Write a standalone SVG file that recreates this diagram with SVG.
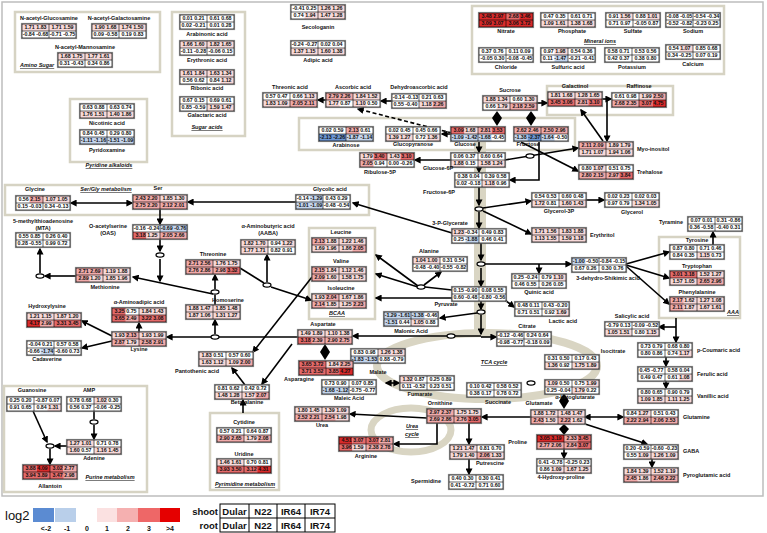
<svg xmlns="http://www.w3.org/2000/svg" xmlns:xlink="http://www.w3.org/1999/xlink" width="767" height="533" viewBox="0 0 767 533">
<style>
text{font-family:"Liberation Sans",Arial,sans-serif;font-weight:bold;fill:#111}
.v{font-size:5.3px;text-anchor:middle}
.l{font-size:5.5px;text-anchor:middle}
.s{text-anchor:start}.e{text-anchor:end}
.t{font-size:5.5px;font-style:italic;text-decoration:underline;text-anchor:middle}
.c{width:13.5px;height:7px}.w2{width:27px}.w4{width:54px}.h2{height:14px}
.p1{fill:#f7d9d9}.p2{fill:#f0aaaa}.p3{fill:#e46a6a}.p4{fill:#d82a2a}.b1{fill:#c3d4ec}.b2{fill:#6c96d3}
.pan{fill:none;stroke:#d6d3c3;stroke-width:2.5}
.ln{fill:none;stroke:#000;stroke-width:1.6}
.ar{marker-end:url(#a)}
.da{marker-start:url(#a);marker-end:url(#a)}
.dm{fill:#000}
</style>
<defs>
<marker id="a" viewBox="0 0 10 10" refX="8" refY="5" markerWidth="7" markerHeight="7" markerUnits="userSpaceOnUse" orient="auto-start-reverse"><path d="M0,0L10,5L0,10z"/></marker>
<rect id="bg" width="54" height="14" fill="#fff"/>
<g id="bx"><rect x="-0.7" y="-0.7" width="55.4" height="15.4" fill="none" stroke="#8a8a8a" stroke-width="0.8"/><rect width="54" height="14" fill="none" stroke="#000" stroke-width="0.7"/><path d="M27 0V14M0 7H54" stroke="#000" stroke-width="0.6"/></g>
<ellipse id="ov" rx="4" ry="2.2" fill="#fff" stroke="#000" stroke-width="1.2"/>
</defs>
<rect width="767" height="533" fill="#fff"/>
<rect x="2" y="2" width="761" height="494" fill="none" stroke="#bdbdbd" stroke-width="1.5"/>

<g id="panels">
<rect class="pan" x="15" y="12" width="145" height="60"/>
<rect class="pan" x="172" y="12" width="73" height="124"/>
<rect class="pan" x="70" y="99" width="77" height="63"/>
<rect class="pan" x="472" y="6" width="252" height="68"/>
<rect class="pan" x="547" y="86" width="126" height="29"/>
<rect class="pan" x="299" y="118" width="276" height="32"/>
<rect class="pan" x="5" y="185" width="364" height="30"/>
<rect class="pan" x="309" y="228" width="66" height="91"/>
<rect class="pan" x="659" y="237" width="81" height="81"/>
<rect class="pan" x="210" y="413" width="69" height="77"/>
<rect class="pan" x="4" y="386" width="143" height="106"/>
<path d="M480 142V334" fill="none" stroke="#d9d5c3" stroke-width="12"/>
<ellipse cx="487" cy="366" rx="110" ry="33" fill="none" stroke="#d9d5c3" stroke-width="8"/>
<ellipse cx="411" cy="430" rx="40" ry="22" fill="none" stroke="#d9d5c3" stroke-width="7"/>
<text class="t" x="20" y="67" style="text-anchor:start">Amino  Sugar</text>
<text class="t" x="207" y="129">Sugar  acids</text>
<text class="t" x="109" y="167">Pyridine  alkaloids</text>
<text class="t" x="600" y="43">Mineral  ions</text>
<text class="t" x="337" y="315">BCAA</text>
<text class="t" x="733" y="314">AAA</text>
<text class="t" x="106" y="191">Ser/Gly metabolism</text>
<text class="t" x="494" y="364">TCA cycle</text>
<text class="t" x="412" y="428">Urea</text>
<text class="t" x="412" y="436">cycle</text>
<text class="t" x="245" y="486">Pyrimidine  metabolism</text>
<text class="t" x="110" y="479">Purine  metabolism</text>
</g>

<g id="connectors">
<path class="ln ar" d="M326 100H318"/>
<path class="ln ar" d="M392 101H381"/>
<path class="ln ar" d="M452 133L358 109" stroke-dasharray="4 2.5"/>
<path class="ln ar" d="M451 134H442"/>
<polygon class="dm" points="497,111 502,118 497,126 492,118"/>
<polygon class="dm" points="531,111 536,118 531,126 526,118"/>
<path class="ln ar" d="M537 103H547"/>
<path class="ln ar" d="M602 99H611"/>
<path class="ln ar" d="M607 100V141"/>
<path class="ln ar" d="M603 141L581 110"/>
<path class="ln ar" d="M505 160L578 148"/>
<path class="ln ar" d="M521 142L578 171"/>
<path class="ln ar" d="M539 142V180H510"/>
<path class="ln ar" d="M479 142V152"/>
<path class="ln ar" d="M451 160H415"/>
<path class="ln ar" d="M479 167V172"/>
<path class="ln ar" d="M479 187V205"/>
<path class="ln ar" d="M479 212V228"/>
<path class="ln ar" d="M483 208L531 201"/>
<path class="ln ar" d="M483 211L531 234"/>
<path class="ln ar" d="M586 200H604"/>
<path class="ln ar" d="M452 233L353 203"/>
<path class="ln ar" d="M296 202H188"/>
<path class="ln da" d="M71 203H132"/>
<path class="ln ar" d="M160 209V224"/>
<path class="ln ar" d="M160 239V251"/>
<path class="ln ar" d="M160 259V281"/>
<path class="ln ar" d="M213 294L133 277"/>
<path class="ln ar" d="M76 276H45"/>
<path class="ln ar" d="M40 273V249"/>
<path class="ln ar" d="M481 243V260"/>
<path class="ln ar" d="M485 264H571"/>
<path class="ln ar" d="M539 264V273"/>
<path class="ln ar" d="M626 264L669 252"/>
<path class="ln ar" d="M626 265L669 278"/>
<path class="ln ar" d="M626 266L669 304"/>
<path class="ln ar" d="M713 245V232"/>
<path class="ln ar" d="M676 318V342"/>
<path class="ln ar" d="M676 327H659"/>
<path class="ln ar" d="M666 356V366"/>
<path class="ln ar" d="M666 381V388"/>
<path class="ln ar" d="M481 268V286"/>
<path class="ln" d="M452 290L425 287"/>
<path class="ln ar" d="M424 285L441 272"/>
<path class="ln ar" d="M418 286L376 255"/>
<path class="ln ar" d="M418 287L376 274"/>
<path class="ln ar" d="M452 298H376"/>
<path class="ln ar" d="M271 287L311 300"/>
<path class="ln" d="M240 268L264 283"/>
<path class="ln ar" d="M267 282V255"/>
<path class="ln ar" d="M505 300L514 307"/>
<path class="ln ar" d="M481 300V309"/>
<path class="ln ar" d="M477 313L440 318"/>
<path class="ln ar" d="M481 315V334"/>
<path class="ln ar" d="M481 337H496"/>
<path class="ln ar" d="M481 336H353"/>
<path class="ln ar" d="M298 337H167"/>
<path class="ln ar" d="M215 334V320"/>
<path class="ln" d="M215 305V295"/>
<path class="ln ar" d="M215 289V275"/>
<path class="ln ar" d="M139 332V323"/>
<path class="ln ar" d="M112 336L82 321"/>
<path class="ln ar" d="M112 341L82 348"/>
<path class="ln ar" d="M312 277L253 352"/>
<polygon class="dm" points="325,344 330,352 325,360 320,352"/>
<path class="ln ar" d="M292 344L262 384"/>
<path class="ln ar" d="M245 385L232 368"/>
<path class="ln ar" d="M243 413V400"/>
<path class="ln ar" d="M33 411L47 442"/>
<path class="ln ar" d="M67 446H55"/>
<path class="ln" d="M94 411V419"/>
<path class="ln ar" d="M94 425V439"/>
<path class="ln ar" d="M50 449V464"/>
<path class="ln ar" d="M531 417H482"/>
<path class="ln ar" d="M427 418L350 414"/>
<path class="ln ar" d="M437 423V444H394"/>
<path class="ln ar" d="M469 423V444"/>
<path class="ln ar" d="M469 459V474"/>
<polygon class="dm" points="564,393 569,401 564,409 559,401"/>
<polygon class="dm" points="564,424 569,429 564,435 559,429"/>
<path class="ln ar" d="M564 449V458"/>
<path class="ln da" d="M585 417H623"/>
<path class="ln ar" d="M585 424L647 444"/>
<path class="ln ar" d="M652 458V467"/>
<path class="ln da" d="M386 383H399"/>
<use href="#ov" x="530" y="156"/>
<use href="#ov" x="479" y="209"/>
<use href="#ov" x="160" y="255"/>
<use href="#ov" x="40" y="276"/>
<use href="#ov" x="481" y="264"/>
<use href="#ov" x="421" y="287"/>
<use href="#ov" x="267" y="285"/>
<use href="#ov" x="481" y="312"/>
<use href="#ov" x="451" y="336"/>
<use href="#ov" x="215" y="337"/>
<use href="#ov" x="215" y="292"/>
<use href="#ov" x="50" y="446"/>
<use href="#ov" x="94" y="422"/>
<use href="#ov" x="531" y="383"/>
</g>

<g id="nag" transform="translate(22,24)"><use href="#bg"/><rect class="c w4 p1"/><use href="#bx"/><text class="v" x="13.5" y="5.3">1.71 1.83</text><text class="v" x="40.5" y="5.3">1.71 1.59</text><text class="v" x="13.5" y="12.3">-0.84 -0.68</text><text class="v" x="40.5" y="12.3">-0.71 -0.75</text><text class="l" x="27" y="-4">N-acetyl-Glucosamine</text></g>
<g id="ngal" transform="translate(92,24)"><use href="#bg"/><rect class="c w4 p1"/><use href="#bx"/><text class="v" x="13.5" y="5.3">1.90 1.68</text><text class="v" x="40.5" y="5.3">1.74 1.50</text><text class="v" x="13.5" y="12.3">0.09 -0.58</text><text class="v" x="40.5" y="12.3">0.19 0.83</text><text class="l" x="27" y="-4">N-acetyl-Galactosamine</text></g>
<g id="nman" transform="translate(58,53)"><use href="#bg"/><rect class="c w4 p1"/><use href="#bx"/><text class="v" x="13.5" y="5.3">1.68 1.75</text><text class="v" x="40.5" y="5.3">1.77 1.61</text><text class="v" x="13.5" y="12.3">0.31 -0.43</text><text class="v" x="40.5" y="12.3">0.34 0.86</text><text class="l" x="27" y="-4">N-acetyl-Mannosamine</text></g>
<g id="arab" transform="translate(180,15)"><use href="#bg"/><use href="#bx"/><text class="v" x="13.5" y="5.3">0.01 0.21</text><text class="v" x="40.5" y="5.3">0.61 0.68</text><text class="v" x="13.5" y="12.3">0.02 -0.21</text><text class="v" x="40.5" y="12.3">0.01 0.28</text><text class="l" x="27" y="21">Arabinonic  acid</text></g>
<g id="eryth" transform="translate(180,41)"><use href="#bg"/><rect class="c w4 p1"/><use href="#bx"/><text class="v" x="13.5" y="5.3">1.66 1.60</text><text class="v" x="40.5" y="5.3">1.82 1.65</text><text class="v" x="13.5" y="12.3">-0.11 -0.28</text><text class="v" x="40.5" y="12.3">-0.06 0.15</text><text class="l" x="27" y="21">Erythronic  acid</text></g>
<g id="ribon" transform="translate(180,70)"><use href="#bg"/><rect class="c w4 p1"/><rect class="c p1" x="40.5" y="7"/><use href="#bx"/><text class="v" x="13.5" y="5.3">1.61 1.84</text><text class="v" x="40.5" y="5.3">1.63 1.34</text><text class="v" x="13.5" y="12.3">0.56 0.62</text><text class="v" x="40.5" y="12.3">0.84 1.12</text><text class="l" x="27" y="20">Ribonic  acid</text></g>
<g id="galac" transform="translate(180,97)"><use href="#bg"/><rect class="c w2 p1" x="27" y="7"/><use href="#bx"/><text class="v" x="13.5" y="5.3">0.67 0.15</text><text class="v" x="40.5" y="5.3">0.69 0.61</text><text class="v" x="13.5" y="12.3">0.85 -0.59</text><text class="v" x="40.5" y="12.3">1.59 1.47</text><text class="l" x="27" y="20">Galactaric  acid</text></g>
<g id="nicot" transform="translate(80,104)"><use href="#bg"/><rect class="c w4 p1" y="7"/><use href="#bx"/><text class="v" x="13.5" y="5.3">0.63 0.88</text><text class="v" x="40.5" y="5.3">0.63 0.74</text><text class="v" x="13.5" y="12.3">1.76 1.51</text><text class="v" x="40.5" y="12.3">1.40 1.86</text><text class="l" x="27" y="21">Nicotinic  acid</text></g>
<g id="pyridox" transform="translate(80,130)"><use href="#bg"/><rect class="c w4 b1" y="7"/><use href="#bx"/><text class="v" x="13.5" y="5.3">0.84 0.45</text><text class="v" x="40.5" y="5.3">0.29 0.80</text><text class="v" x="13.5" y="12.3">-1.11 -1.16</text><text class="v" x="40.5" y="12.3">-1.51 -1.09</text><text class="l" x="27" y="22">Pyridoxamine</text></g>
<g id="secol" transform="translate(291,5)"><use href="#bg"/><rect class="c w2 p1" x="27"/><rect class="c p1" x="13.5" y="7"/><rect class="c w2 p1" x="27" y="7"/><use href="#bx"/><text class="v" x="13.5" y="5.3">-0.41 0.25</text><text class="v" x="40.5" y="5.3">1.26 1.26</text><text class="v" x="13.5" y="12.3">0.74 1.94</text><text class="v" x="40.5" y="12.3">1.47 1.28</text><text class="l" x="27" y="24">Secologanin</text></g>
<g id="adipic" transform="translate(291,41)"><use href="#bg"/><rect class="c w4 p1" y="7"/><use href="#bx"/><text class="v" x="13.5" y="5.3">-0.24 -0.27</text><text class="v" x="40.5" y="5.3">0.02 0.04</text><text class="v" x="13.5" y="12.3">1.37 1.15</text><text class="v" x="40.5" y="12.3">1.60 1.38</text><text class="l" x="27" y="21">Adipic  acid</text></g>
<g id="nitrate" transform="translate(479,13)"><use href="#bg"/><rect class="c w4 h2 p4"/><rect class="c p3" x="27"/><use href="#bx"/><text class="v" x="13.5" y="5.3">3.48 2.97</text><text class="v" x="40.5" y="5.3">2.68 3.46</text><text class="v" x="13.5" y="12.3">3.09 3.07</text><text class="v" x="40.5" y="12.3">3.06 3.72</text><text class="l" x="27" y="20">Nitrate</text></g>
<g id="phosph" transform="translate(541,13)"><use href="#bg"/><rect class="c w4 p1" y="7"/><use href="#bx"/><text class="v" x="13.5" y="5.3">0.47 0.35</text><text class="v" x="40.5" y="5.3">0.61 0.71</text><text class="v" x="13.5" y="12.3">1.09 1.61</text><text class="v" x="40.5" y="12.3">1.38 1.68</text><text class="l" x="31" y="20">Phosphate</text></g>
<g id="sulfate" transform="translate(606,13)"><use href="#bg"/><rect class="c p1" x="13.5"/><rect class="c p1" x="40.5"/><use href="#bx"/><text class="v" x="13.5" y="5.3">0.91 1.56</text><text class="v" x="40.5" y="5.3">0.88 1.01</text><text class="v" x="13.5" y="12.3">0.71 0.97</text><text class="v" x="40.5" y="12.3">-0.05 0.87</text><text class="l" x="27" y="20">Sulfate</text></g>
<g id="sodium" transform="translate(666,13)"><use href="#bg"/><use href="#bx"/><text class="v" x="13.5" y="5.3">-0.08 -0.05</text><text class="v" x="40.5" y="5.3">-0.54 -0.34</text><text class="v" x="13.5" y="12.3">-0.52 -0.82</text><text class="v" x="40.5" y="12.3">-0.23 0.25</text><text class="l" x="27" y="20">Sodium</text></g>
<g id="chloride" transform="translate(479,48)"><use href="#bg"/><use href="#bx"/><text class="v" x="13.5" y="5.3">0.37 0.76</text><text class="v" x="40.5" y="5.3">0.11 0.09</text><text class="v" x="13.5" y="12.3">-0.05 0.30</text><text class="v" x="40.5" y="12.3">-0.08 -0.45</text><text class="l" x="27" y="21">Chloride</text></g>
<g id="sulfuric" transform="translate(541,48)"><use href="#bg"/><rect class="c p1" x="13.5"/><rect class="c b1" x="13.5" y="7"/><use href="#bx"/><text class="v" x="13.5" y="5.3">0.97 1.98</text><text class="v" x="40.5" y="5.3">0.54 0.36</text><text class="v" x="13.5" y="12.3">0.11 -1.47</text><text class="v" x="40.5" y="12.3">-0.21 -0.41</text><text class="l" x="27" y="21">Sulfuric  acid</text></g>
<g id="potass" transform="translate(605,48)"><use href="#bg"/><use href="#bx"/><text class="v" x="13.5" y="5.3">0.58 0.71</text><text class="v" x="40.5" y="5.3">0.53 0.56</text><text class="v" x="13.5" y="12.3">0.42 0.37</text><text class="v" x="40.5" y="12.3">0.38 0.80</text><text class="l" x="27" y="21">Potassium</text></g>
<g id="calcium" transform="translate(666,45)"><use href="#bg"/><rect class="c p1" x="13.5"/><use href="#bx"/><text class="v" x="13.5" y="5.3">0.54 1.07</text><text class="v" x="40.5" y="5.3">0.85 0.68</text><text class="v" x="13.5" y="12.3">0.34 -0.25</text><text class="v" x="40.5" y="12.3">0.07 0.19</text><text class="l" x="27" y="21">Calcium</text></g>
<g id="threonic" transform="translate(263,93)"><use href="#bg"/><rect class="c p1" x="40.5"/><rect class="c w2 p1" y="7"/><rect class="c w2 p2" x="27" y="7"/><use href="#bx"/><text class="v" x="13.5" y="5.3">0.57 0.47</text><text class="v" x="40.5" y="5.3">0.66 1.13</text><text class="v" x="13.5" y="12.3">1.83 1.09</text><text class="v" x="40.5" y="12.3">2.05 2.11</text><text class="l" x="27" y="-4">Threonic  acid</text></g>
<g id="ascorbic" transform="translate(326,93)"><use href="#bg"/><rect class="c w2 p2"/><rect class="c w2 p1" x="27"/><rect class="c p1" y="7"/><rect class="c p1" x="27" y="7"/><use href="#bx"/><text class="v" x="13.5" y="5.3">2.79 2.26</text><text class="v" x="40.5" y="5.3">1.84 1.52</text><text class="v" x="13.5" y="12.3">1.77 0.87</text><text class="v" x="40.5" y="12.3">1.10 0.50</text><text class="l" x="27" y="-4">Ascorbic  acid</text></g>
<g id="dhasc" transform="translate(392,94)"><use href="#bg"/><rect class="c p1" x="27" y="7"/><rect class="c p2" x="40.5" y="7"/><use href="#bx"/><text class="v" x="13.5" y="5.3">-0.14 -0.13</text><text class="v" x="40.5" y="5.3">0.21 0.63</text><text class="v" x="13.5" y="12.3">0.55 -0.40</text><text class="v" x="40.5" y="12.3">1.18 2.26</text><text class="l" x="27" y="-5">Dehydroascorbic  acid</text></g>
<g id="arabinose" transform="translate(319,127)"><use href="#bg"/><rect class="c p2" x="27"/><rect class="c w2 b2" y="7"/><rect class="c w2 b1" x="27" y="7"/><use href="#bx"/><text class="v" x="13.5" y="5.3">0.02 0.59</text><text class="v" x="40.5" y="5.3">2.13 0.61</text><text class="v" x="13.5" y="12.3">-2.13 -2.26</text><text class="v" x="40.5" y="12.3">-1.87 -1.14</text><text class="l" x="27" y="20">Arabinose</text></g>
<g id="glucopyr" transform="translate(386,127)"><use href="#bg"/><rect class="c w2 p1" y="7"/><rect class="c p1" x="40.5" y="7"/><use href="#bx"/><text class="v" x="13.5" y="5.3">0.02 0.45</text><text class="v" x="40.5" y="5.3">0.45 0.66</text><text class="v" x="13.5" y="12.3">1.39 1.27</text><text class="v" x="40.5" y="12.3">0.72 1.36</text><text class="l" x="27" y="19">Glucopyranose</text></g>
<g id="glucose" transform="translate(451,127)"><use href="#bg"/><rect class="c p3"/><rect class="c p1" x="13.5"/><rect class="c p2" x="27"/><rect class="c p3" x="40.5"/><rect class="c b1" y="7"/><rect class="c b1" x="13.5" y="7"/><rect class="c b1" x="27" y="7"/><use href="#bx"/><text class="v" x="13.5" y="5.3">3.09 1.68</text><text class="v" x="40.5" y="5.3">2.81 3.53</text><text class="v" x="13.5" y="12.3">-1.09 -1.42</text><text class="v" x="40.5" y="12.3">-1.68 -0.45</text><text class="l" x="14" y="19">Glucose</text></g>
<g id="fructose" transform="translate(514,127)"><use href="#bg"/><rect class="c w4 p2"/><rect class="c b1" y="7"/><rect class="c b2" x="13.5" y="7"/><rect class="c b1" x="27" y="7"/><use href="#bx"/><text class="v" x="13.5" y="5.3">2.62 2.46</text><text class="v" x="40.5" y="5.3">2.50 2.96</text><text class="v" x="13.5" y="12.3">-1.38 -2.37</text><text class="v" x="40.5" y="12.3">-1.64 -0.50</text><text class="l" x="14" y="19">Fructose</text></g>
<g id="sucrose" transform="translate(483,96)"><use href="#bg"/><rect class="c w2 p1"/><rect class="c p1" x="40.5"/><rect class="c p1" x="13.5" y="7"/><rect class="c w2 p2" x="27" y="7"/><use href="#bx"/><text class="v" x="13.5" y="5.3">1.88 1.34</text><text class="v" x="40.5" y="5.3">0.60 1.30</text><text class="v" x="13.5" y="12.3">0.66 1.79</text><text class="v" x="40.5" y="12.3">2.18 2.59</text><text class="l" x="27" y="-4">Sucrose</text></g>
<g id="galactinol" transform="translate(548,92)"><use href="#bg"/><rect class="c w4 p1"/><rect class="c w4 p3" y="7"/><rect class="c p2" x="27" y="7"/><use href="#bx"/><text class="v" x="13.5" y="5.3">1.81 1.68</text><text class="v" x="40.5" y="5.3">1.28 1.65</text><text class="v" x="13.5" y="12.3">3.45 3.06</text><text class="v" x="40.5" y="12.3">2.81 3.10</text><text class="l" x="27" y="-4">Galactinol</text></g>
<g id="raffinose" transform="translate(612,93)"><use href="#bg"/><rect class="c p1" x="27"/><rect class="c p2" x="40.5"/><rect class="c w2 p2" y="7"/><rect class="c p3" x="27" y="7"/><rect class="c p4" x="40.5" y="7"/><use href="#bx"/><text class="v" x="13.5" y="5.3">0.61 0.98</text><text class="v" x="40.5" y="5.3">1.99 2.50</text><text class="v" x="13.5" y="12.3">2.68 2.35</text><text class="v" x="40.5" y="12.3">3.07 4.75</text><text class="l" x="27" y="-5">Raffinose</text></g>
<g id="myo" transform="translate(579,142)"><use href="#bg"/><rect class="c w2 p2"/><rect class="c w2 p1" x="27"/><rect class="c w4 p1" y="7"/><use href="#bx"/><text class="v" x="13.5" y="5.3">2.11 2.09</text><text class="v" x="40.5" y="5.3">1.89 1.79</text><text class="v" x="13.5" y="12.3">1.71 1.07</text><text class="v" x="40.5" y="12.3">1.94 1.06</text><text class="l s" x="58" y="9">Myo-inositol</text></g>
<g id="trehalose" transform="translate(579,165)"><use href="#bg"/><rect class="c p1" x="13.5"/><rect class="c w4 p2" y="7"/><rect class="c p3" x="40.5" y="7"/><use href="#bx"/><text class="v" x="13.5" y="5.3">0.80 1.07</text><text class="v" x="40.5" y="5.3">0.51 0.75</text><text class="v" x="13.5" y="12.3">2.80 2.15</text><text class="v" x="40.5" y="12.3">2.97 3.84</text><text class="l s" x="58" y="9">Trehalose</text></g>
<g id="glc6p" transform="translate(451,153)"><use href="#bg"/><rect class="c p1" y="7"/><rect class="c w2 p1" x="27" y="7"/><use href="#bx"/><text class="v" x="13.5" y="5.3">0.06 0.37</text><text class="v" x="40.5" y="5.3">0.60 0.64</text><text class="v" x="13.5" y="12.3">1.88 0.15</text><text class="v" x="40.5" y="12.3">1.58 1.24</text><text class="l" x="-13" y="17">Glucose-6P</text></g>
<g id="ribulose" transform="translate(360,153)"><use href="#bg"/><rect class="c p1"/><rect class="c p3" x="13.5"/><rect class="c p1" x="27"/><rect class="c p3" x="40.5"/><rect class="c p2" y="7"/><use href="#bx"/><text class="v" x="13.5" y="5.3">1.79 3.40</text><text class="v" x="40.5" y="5.3">1.43 3.10</text><text class="v" x="13.5" y="12.3">2.05 0.94</text><text class="v" x="40.5" y="12.3">0.00 -0.26</text><text class="l" x="20" y="21">Ribulose-5P</text></g>
<g id="fru6p" transform="translate(455,173)"><use href="#bg"/><rect class="c p1" x="27" y="7"/><use href="#bx"/><text class="v" x="13.5" y="5.3">0.38 0.04</text><text class="v" x="40.5" y="5.3">0.39 0.58</text><text class="v" x="13.5" y="12.3">0.02 -0.18</text><text class="v" x="40.5" y="12.3">1.18 0.96</text><text class="l" x="-16" y="21">Fructose-6P</text></g>
<g id="pga" transform="translate(452,229)"><use href="#bg"/><rect class="c p1"/><rect class="c b1" x="13.5" y="7"/><use href="#bx"/><text class="v" x="13.5" y="5.3">1.23 -0.34</text><text class="v" x="40.5" y="5.3">0.49 0.83</text><text class="v" x="13.5" y="12.3">0.25 -1.88</text><text class="v" x="40.5" y="12.3">0.46 0.41</text><text class="l" x="-2" y="-4">3-P-Glycerate</text></g>
<g id="glycerol3p" transform="translate(532,193)"><use href="#bg"/><rect class="c p1" y="7"/><rect class="c w2 p1" x="27" y="7"/><use href="#bx"/><text class="v" x="13.5" y="5.3">0.54 0.53</text><text class="v" x="40.5" y="5.3">0.60 0.48</text><text class="v" x="13.5" y="12.3">1.72 0.81</text><text class="v" x="40.5" y="12.3">1.60 1.43</text><text class="l" x="27" y="20">Glycerol-3P</text></g>
<g id="glycerol" transform="translate(605,193)"><use href="#bg"/><rect class="c w2 p1" x="27" y="7"/><use href="#bx"/><text class="v" x="13.5" y="5.3">0.02 0.23</text><text class="v" x="40.5" y="5.3">0.02 0.03</text><text class="v" x="13.5" y="12.3">0.97 0.79</text><text class="v" x="40.5" y="12.3">1.34 1.05</text><text class="l" x="27" y="21">Glycerol</text></g>
<g id="erythritol" transform="translate(532,228)"><use href="#bg"/><rect class="c w4 h2 p1"/><use href="#bx"/><text class="v" x="13.5" y="5.3">1.71 1.56</text><text class="v" x="40.5" y="5.3">1.83 1.88</text><text class="v" x="13.5" y="12.3">1.13 1.55</text><text class="v" x="40.5" y="12.3">1.59 1.18</text><text class="l s" x="58" y="9">Erythritol</text></g>
<g id="tyramine" transform="translate(688,217)"><use href="#bg"/><use href="#bx"/><text class="v" x="13.5" y="5.3">0.07 0.01</text><text class="v" x="40.5" y="5.3">0.31 -0.86</text><text class="v" x="13.5" y="12.3">0.36 -0.58</text><text class="v" x="40.5" y="12.3">-0.40 0.31</text><text class="l e" x="-5" y="7">Tyramine</text></g>
<g id="tyrosine" transform="translate(670,245)"><use href="#bg"/><rect class="c p1" x="27" y="7"/><use href="#bx"/><text class="v" x="13.5" y="5.3">0.87 0.80</text><text class="v" x="40.5" y="5.3">0.71 0.46</text><text class="v" x="13.5" y="12.3">0.84 0.35</text><text class="v" x="40.5" y="12.3">1.15 0.73</text><text class="l" x="27" y="-3">Tyrosine</text></g>
<g id="tryptophan" transform="translate(670,271)"><use href="#bg"/><rect class="c w2 p3"/><rect class="c w2 p1" x="27"/><rect class="c w2 p1" y="7"/><rect class="c w2 p2" x="27" y="7"/><use href="#bx"/><text class="v" x="13.5" y="5.3">3.01 3.18</text><text class="v" x="40.5" y="5.3">1.52 1.27</text><text class="v" x="13.5" y="12.3">1.57 1.05</text><text class="v" x="40.5" y="12.3">2.65 2.96</text><text class="l" x="27" y="-3">Tryptophan</text></g>
<g id="phenylal" transform="translate(670,297)"><use href="#bg"/><rect class="c w4 h2 p1"/><rect class="c p2"/><rect class="c p2" y="7"/><use href="#bx"/><text class="v" x="13.5" y="5.3">2.17 1.62</text><text class="v" x="40.5" y="5.3">1.27 1.08</text><text class="v" x="13.5" y="12.3">2.11 1.87</text><text class="v" x="40.5" y="12.3">1.67 1.61</text><text class="l" x="27" y="-3">Phenylalanine</text></g>
<g id="dhs" transform="translate(572,258)"><use href="#bg"/><rect class="c b1"/><use href="#bx"/><text class="v" x="13.5" y="5.3">-1.00 -0.50</text><text class="v" x="40.5" y="5.3">-0.84 -0.15</text><text class="v" x="13.5" y="12.3">0.67 0.26</text><text class="v" x="40.5" y="12.3">0.30 0.76</text><text class="l" x="36" y="22">3-dehydro-Shikimic   acid</text></g>
<g id="quinic" transform="translate(512,274)"><use href="#bg"/><rect class="c p1" x="40.5"/><use href="#bx"/><text class="v" x="13.5" y="5.3">0.25 -0.24</text><text class="v" x="40.5" y="5.3">0.79 1.10</text><text class="v" x="13.5" y="12.3">0.46 0.55</text><text class="v" x="40.5" y="12.3">0.26 0.05</text><text class="l" x="27" y="20">Quinic  acid</text></g>
<g id="alanine" transform="translate(413,257)"><use href="#bg"/><rect class="c w2 p1"/><use href="#bx"/><text class="v" x="13.5" y="5.3">1.04 1.00</text><text class="v" x="40.5" y="5.3">0.31 0.54</text><text class="v" x="13.5" y="12.3">-0.48 -0.40</text><text class="v" x="40.5" y="12.3">-0.55 -0.82</text><text class="l" x="16" y="-4">Alanine</text></g>
<g id="pyruvate" transform="translate(452,287)"><use href="#bg"/><use href="#bx"/><text class="v" x="13.5" y="5.3">0.15 -0.90</text><text class="v" x="40.5" y="5.3">0.08 0.55</text><text class="v" x="13.5" y="12.3">0.60 -0.48</text><text class="v" x="40.5" y="12.3">-0.80 -0.56</text><text class="l" x="-6" y="19">Pyruvate</text></g>
<g id="lactic" transform="translate(515,302)"><use href="#bg"/><rect class="c p1" x="40.5" y="7"/><use href="#bx"/><text class="v" x="13.5" y="5.3">0.48 0.11</text><text class="v" x="40.5" y="5.3">0.43 -0.20</text><text class="v" x="13.5" y="12.3">0.71 0.51</text><text class="v" x="40.5" y="12.3">0.92 1.69</text><text class="l" x="48" y="21">Lactic  acid</text></g>
<g id="citrate" transform="translate(497,332)"><use href="#bg"/><use href="#bx"/><text class="v" x="13.5" y="5.3">-0.12 -0.46</text><text class="v" x="40.5" y="5.3">0.24 0.64</text><text class="v" x="13.5" y="12.3">-0.98 -0.77</text><text class="v" x="40.5" y="12.3">-0.18 0.09</text><text class="l" x="30" y="-4">Citrate</text></g>
<g id="malonic" transform="translate(384,312)"><use href="#bg"/><rect class="c w2 b1"/><rect class="c b1" x="27"/><rect class="c b1" y="7"/><rect class="c p1" x="27" y="7"/><use href="#bx"/><text class="v" x="13.5" y="5.3">-1.29 -1.61</text><text class="v" x="40.5" y="5.3">-1.38 -0.46</text><text class="v" x="13.5" y="12.3">-1.51 0.44</text><text class="v" x="40.5" y="12.3">1.05 0.88</text><text class="l" x="27" y="21">Malonic  Acid</text></g>
<g id="salicylic" transform="translate(605,322)"><use href="#bg"/><rect class="c w2 p1" y="7"/><rect class="c p1" x="40.5" y="7"/><use href="#bx"/><text class="v" x="13.5" y="5.3">-0.79 0.13</text><text class="v" x="40.5" y="5.3">-0.09 -0.52</text><text class="v" x="13.5" y="12.3">1.05 1.51</text><text class="v" x="40.5" y="12.3">0.80 1.15</text><text class="l" x="27" y="-4">Salicylic acid</text></g>
<g id="pcoum" transform="translate(638,343)"><use href="#bg"/><rect class="c p1" x="40.5" y="7"/><use href="#bx"/><text class="v" x="13.5" y="5.3">0.73 0.79</text><text class="v" x="40.5" y="5.3">0.68 0.80</text><text class="v" x="13.5" y="12.3">0.80 0.86</text><text class="v" x="40.5" y="12.3">0.74 1.17</text><text class="l s" x="59" y="9">p-Coumaric   acid</text></g>
<g id="ferulic" transform="translate(638,367)"><use href="#bg"/><rect class="c p1" x="40.5" y="7"/><use href="#bx"/><text class="v" x="13.5" y="5.3">0.45 -0.77</text><text class="v" x="40.5" y="5.3">0.58 0.04</text><text class="v" x="13.5" y="12.3">0.49 0.47</text><text class="v" x="40.5" y="12.3">0.61 1.08</text><text class="l s" x="59" y="9">Ferulic  acid</text></g>
<g id="vanillic" transform="translate(638,389)"><use href="#bg"/><rect class="c w4 p1" y="7"/><use href="#bx"/><text class="v" x="13.5" y="5.3">0.80 0.65</text><text class="v" x="40.5" y="5.3">0.90 0.79</text><text class="v" x="13.5" y="12.3">1.09 1.85</text><text class="v" x="40.5" y="12.3">1.11 1.25</text><text class="l s" x="59" y="9">Vanillic  acid</text></g>
<g id="glutamine" transform="translate(624,410)"><use href="#bg"/><rect class="c p1" x="13.5"/><rect class="c w4 p2" y="7"/><use href="#bx"/><text class="v" x="13.5" y="5.3">0.84 1.27</text><text class="v" x="40.5" y="5.3">0.51 0.43</text><text class="v" x="13.5" y="12.3">2.22 2.94</text><text class="v" x="40.5" y="12.3">2.06 2.53</text><text class="l s" x="59" y="9">Glutamine</text></g>
<g id="gaba" transform="translate(624,445)"><use href="#bg"/><rect class="c p1" x="13.5" y="7"/><rect class="c w2 p1" x="27" y="7"/><use href="#bx"/><text class="v" x="13.5" y="5.3">0.20 -0.59</text><text class="v" x="40.5" y="5.3">-0.60 -0.23</text><text class="v" x="13.5" y="12.3">0.55 1.09</text><text class="v" x="40.5" y="12.3">1.26 1.09</text><text class="l s" x="59" y="8">GABA</text></g>
<g id="pyroglu" transform="translate(624,468)"><use href="#bg"/><rect class="c w4 p1"/><rect class="c w4 p2" y="7"/><rect class="c p1" x="13.5" y="7"/><use href="#bx"/><text class="v" x="13.5" y="5.3">1.84 1.39</text><text class="v" x="40.5" y="5.3">1.52 1.19</text><text class="v" x="13.5" y="12.3">2.45 1.86</text><text class="v" x="40.5" y="12.3">2.46 2.22</text><text class="l s" x="59" y="9">Pyroglutamic  acid</text></g>
<g id="isocitrate" transform="translate(545,355)"><use href="#bg"/><rect class="c p1" y="7"/><rect class="c w2 p1" x="27" y="7"/><use href="#bx"/><text class="v" x="13.5" y="5.3">0.31 0.50</text><text class="v" x="40.5" y="5.3">0.17 0.43</text><text class="v" x="13.5" y="12.3">1.36 0.92</text><text class="v" x="40.5" y="12.3">1.75 1.89</text><text class="l" x="68" y="-2">Isocitrate</text></g>
<g id="akg" transform="translate(545,380)"><use href="#bg"/><rect class="c p1"/><rect class="c p1" x="40.5"/><rect class="c p1" x="27" y="7"/><use href="#bx"/><text class="v" x="13.5" y="5.3">1.09 0.50</text><text class="v" x="40.5" y="5.3">0.75 1.99</text><text class="v" x="13.5" y="12.3">0.25 -0.04</text><text class="v" x="40.5" y="12.3">1.79 0.22</text><text class="l" x="30" y="19">α-ketoglutarate</text></g>
<g id="glutamate" transform="translate(531,410)"><use href="#bg"/><rect class="c w4 p1"/><rect class="c p2" y="7"/><rect class="c p1" x="13.5" y="7"/><rect class="c p2" x="27" y="7"/><rect class="c p1" x="40.5" y="7"/><use href="#bx"/><text class="v" x="13.5" y="5.3">1.88 1.72</text><text class="v" x="40.5" y="5.3">1.48 1.47</text><text class="v" x="13.5" y="12.3">2.43 1.50</text><text class="v" x="40.5" y="12.3">2.22 1.62</text><text class="l" x="8" y="-5">Glutamate</text></g>
<g id="proline" transform="translate(537,435)"><use href="#bg"/><rect class="c w2 p4"/><rect class="c p2" x="27"/><rect class="c p3" x="40.5"/><rect class="c w4 p2" y="7"/><rect class="c p3" x="40.5" y="7"/><use href="#bx"/><text class="v" x="13.5" y="5.3">3.05 3.19</text><text class="v" x="40.5" y="5.3">2.33 3.45</text><text class="v" x="13.5" y="12.3">2.77 2.06</text><text class="v" x="40.5" y="12.3">2.84 3.07</text><text class="l e" x="-10" y="9">Proline</text></g>
<g id="hydroxypro" transform="translate(537,459)"><use href="#bg"/><rect class="c p1" x="13.5" y="7"/><rect class="c w2 p1" x="27" y="7"/><use href="#bx"/><text class="v" x="13.5" y="5.3">0.41 -0.78</text><text class="v" x="40.5" y="5.3">-0.25 0.23</text><text class="v" x="13.5" y="12.3">0.86 1.09</text><text class="v" x="40.5" y="12.3">1.67 1.25</text><text class="l" x="24" y="20">4-Hydroxy-proline</text></g>
<g id="ornithine" transform="translate(427,409)"><use href="#bg"/><rect class="c w2 p2"/><rect class="c w2 p1" x="27"/><rect class="c w4 p2" y="7"/><rect class="c p3" x="40.5" y="7"/><use href="#bx"/><text class="v" x="13.5" y="5.3">2.97 2.37</text><text class="v" x="40.5" y="5.3">1.75 1.75</text><text class="v" x="13.5" y="12.3">2.69 2.86</text><text class="v" x="40.5" y="12.3">2.76 3.05</text><text class="l" x="13" y="-4">Ornithine</text></g>
<g id="putrescine" transform="translate(450,445)"><use href="#bg"/><rect class="c w2 p1"/><rect class="c w4 p1" y="7"/><rect class="c p2" x="27" y="7"/><use href="#bx"/><text class="v" x="13.5" y="5.3">1.21 1.47</text><text class="v" x="40.5" y="5.3">0.81 0.70</text><text class="v" x="13.5" y="12.3">1.79 1.40</text><text class="v" x="40.5" y="12.3">2.06 1.33</text><text class="l" x="40" y="20">Putrescine</text></g>
<g id="spermidine" transform="translate(449,475)"><use href="#bg"/><use href="#bx"/><text class="v" x="13.5" y="5.3">0.40 0.30</text><text class="v" x="40.5" y="5.3">0.30 0.41</text><text class="v" x="13.5" y="12.3">0.41 -0.72</text><text class="v" x="40.5" y="12.3">0.71 0.60</text><text class="l e" x="-8" y="8">Spermidine</text></g>
<g id="succinate" transform="translate(467,383)"><use href="#bg"/><use href="#bx"/><text class="v" x="13.5" y="5.3">0.10 0.42</text><text class="v" x="40.5" y="5.3">0.58 0.52</text><text class="v" x="13.5" y="12.3">0.38 0.17</text><text class="v" x="40.5" y="12.3">0.78 0.72</text><text class="l" x="31" y="21">Succinate</text></g>
<g id="fumarate" transform="translate(400,376)"><use href="#bg"/><rect class="c p1"/><use href="#bx"/><text class="v" x="13.5" y="5.3">1.32 0.87</text><text class="v" x="40.5" y="5.3">0.25 0.89</text><text class="v" x="13.5" y="12.3">0.11 -0.52</text><text class="v" x="40.5" y="12.3">0.23 0.51</text><text class="l" x="20" y="20">Fumarate</text></g>
<g id="urea" transform="translate(295,407)"><use href="#bg"/><rect class="c w4 p1"/><rect class="c w4 p2" y="7"/><rect class="c p1" x="40.5" y="7"/><use href="#bx"/><text class="v" x="13.5" y="5.3">1.80 1.45</text><text class="v" x="40.5" y="5.3">1.39 1.09</text><text class="v" x="13.5" y="12.3">2.52 2.21</text><text class="v" x="40.5" y="12.3">2.54 1.98</text><text class="l" x="27" y="20">Urea</text></g>
<g id="arginine" transform="translate(339,437)"><use href="#bg"/><rect class="c p4"/><rect class="c w2 p3" x="13.5"/><rect class="c p2" x="40.5"/><rect class="c p3" y="7"/><rect class="c p1" x="13.5" y="7"/><rect class="c w2 p2" x="27" y="7"/><use href="#bx"/><text class="v" x="13.5" y="5.3">4.51 3.07</text><text class="v" x="40.5" y="5.3">3.07 2.81</text><text class="v" x="13.5" y="12.3">3.96 1.59</text><text class="v" x="40.5" y="12.3">2.38 2.78</text><text class="l" x="27" y="21">Arginine</text></g>
<g id="maleic" transform="translate(322,380)"><use href="#bg"/><rect class="c w2 b1" y="7"/><use href="#bx"/><text class="v" x="13.5" y="5.3">0.73 0.90</text><text class="v" x="40.5" y="5.3">0.07 0.85</text><text class="v" x="13.5" y="12.3">-1.68 -1.12</text><text class="v" x="40.5" y="12.3">-0.75 -0.77</text><text class="l" x="27" y="20">Maleic  Acid</text></g>
<g id="malate" transform="translate(351,349)"><use href="#bg"/><rect class="c w2 p1" x="27"/><rect class="c w2 b1" y="7"/><use href="#bx"/><text class="v" x="13.5" y="5.3">0.83 0.98</text><text class="v" x="40.5" y="5.3">1.26 1.38</text><text class="v" x="13.5" y="12.3">-1.83 -1.53</text><text class="v" x="40.5" y="12.3">0.88 -0.79</text><text class="l" x="27" y="25">Malate</text></g>
<g id="asparagine" transform="translate(299,361)"><use href="#bg"/><rect class="c w2 p3"/><rect class="c p1" x="27"/><rect class="c p2" x="40.5"/><rect class="c w4 p3" y="7"/><rect class="c p4" x="40.5" y="7"/><use href="#bx"/><text class="v" x="13.5" y="5.3">3.65 3.72</text><text class="v" x="40.5" y="5.3">1.84 2.25</text><text class="v" x="13.5" y="12.3">3.71 3.52</text><text class="v" x="40.5" y="12.3">3.85 4.27</text><text class="l" x="0" y="20">Asparagine</text></g>
<g id="aspartate" transform="translate(298,330)"><use href="#bg"/><rect class="c w4 p1"/><rect class="c w4 p2" y="7"/><rect class="c p3" y="7"/><use href="#bx"/><text class="v" x="13.5" y="5.3">1.49 1.89</text><text class="v" x="40.5" y="5.3">1.10 1.38</text><text class="v" x="13.5" y="12.3">3.18 2.39</text><text class="v" x="40.5" y="12.3">2.90 2.75</text><text class="l" x="25" y="-4">Aspartate</text></g>
<g id="pantothenic" transform="translate(199,352)"><use href="#bg"/><rect class="c p1"/><rect class="c w4 p1" y="7"/><rect class="c p2" x="40.5" y="7"/><use href="#bx"/><text class="v" x="13.5" y="5.3">1.83 0.51</text><text class="v" x="40.5" y="5.3">0.57 0.60</text><text class="v" x="13.5" y="12.3">1.63 1.12</text><text class="v" x="40.5" y="12.3">1.09 2.00</text><text class="l" x="-2" y="21">Pantothenic  acid</text></g>
<g id="betaala" transform="translate(215,385)"><use href="#bg"/><rect class="c w4 p1" y="7"/><rect class="c p2" x="40.5" y="7"/><use href="#bx"/><text class="v" x="13.5" y="5.3">0.81 0.62</text><text class="v" x="40.5" y="5.3">0.42 0.72</text><text class="v" x="13.5" y="12.3">1.48 1.28</text><text class="v" x="40.5" y="12.3">1.57 2.07</text><text class="l" x="32" y="19">Beta-alanine</text></g>
<g id="cytidine" transform="translate(217,428)"><use href="#bg"/><rect class="c w4 p2" y="7"/><rect class="c p1" x="27" y="7"/><use href="#bx"/><text class="v" x="13.5" y="5.3">0.57 0.21</text><text class="v" x="40.5" y="5.3">0.64 0.87</text><text class="v" x="13.5" y="12.3">2.90 2.65</text><text class="v" x="40.5" y="12.3">1.79 2.08</text><text class="l" x="27" y="-4">Cytidine</text></g>
<g id="uridine" transform="translate(217,459)"><use href="#bg"/><rect class="c w2 p1"/><rect class="c w4 p3" y="7"/><rect class="c p4" x="40.5" y="7"/><use href="#bx"/><text class="v" x="13.5" y="5.3">1.46 1.61</text><text class="v" x="40.5" y="5.3">0.70 0.81</text><text class="v" x="13.5" y="12.3">3.93 3.50</text><text class="v" x="40.5" y="12.3">3.12 4.31</text><text class="l" x="27" y="-3">Uridine</text></g>
<g id="leucine" transform="translate(312,238)"><use href="#bg"/><rect class="c w4 h2 p1"/><rect class="c p2"/><rect class="c p2" x="40.5" y="7"/><use href="#bx"/><text class="v" x="13.5" y="5.3">2.13 1.88</text><text class="v" x="40.5" y="5.3">1.22 1.46</text><text class="v" x="13.5" y="12.3">1.69 1.96</text><text class="v" x="40.5" y="12.3">1.86 2.05</text><text class="l" x="29" y="-4">Leucine</text></g>
<g id="valine" transform="translate(312,267)"><use href="#bg"/><rect class="c w4 h2 p1"/><rect class="c p2"/><rect class="c p2" y="7"/><use href="#bx"/><text class="v" x="13.5" y="5.3">2.15 1.84</text><text class="v" x="40.5" y="5.3">1.12 1.46</text><text class="v" x="13.5" y="12.3">2.09 1.60</text><text class="v" x="40.5" y="12.3">1.58 1.75</text><text class="l" x="29" y="-4">Valine</text></g>
<g id="isoleucine" transform="translate(312,294)"><use href="#bg"/><rect class="c w4 h2 p1"/><rect class="c p2" x="13.5"/><rect class="c p2" y="7"/><rect class="c p2" x="40.5" y="7"/><use href="#bx"/><text class="v" x="13.5" y="5.3">1.93 2.04</text><text class="v" x="40.5" y="5.3">1.67 1.86</text><text class="v" x="13.5" y="12.3">2.14 1.85</text><text class="v" x="40.5" y="12.3">1.25 2.23</text><text class="l" x="29" y="-4">Isoleucine</text></g>
<g id="aaba" transform="translate(241,240)"><use href="#bg"/><rect class="c w2 p1"/><rect class="c p1" x="40.5"/><rect class="c w2 p1" y="7"/><use href="#bx"/><text class="v" x="13.5" y="5.3">1.82 1.70</text><text class="v" x="40.5" y="5.3">0.94 1.22</text><text class="v" x="13.5" y="12.3">1.77 1.71</text><text class="v" x="40.5" y="12.3">0.82 0.91</text><text class="l" x="27" y="-12">α-Aminobutyric   acid</text><text class="l" x="27" y="-5">(AABA)</text></g>
<g id="threonine" transform="translate(186,260)"><use href="#bg"/><rect class="c w2 p2"/><rect class="c w2 p1" x="27"/><rect class="c w4 p2" y="7"/><rect class="c p3" x="40.5" y="7"/><use href="#bx"/><text class="v" x="13.5" y="5.3">2.71 2.56</text><text class="v" x="40.5" y="5.3">1.76 1.75</text><text class="v" x="13.5" y="12.3">2.76 2.86</text><text class="v" x="40.5" y="12.3">2.98 3.32</text><text class="l" x="27" y="-4">Threonine</text></g>
<g id="homoserine" transform="translate(186,305)"><use href="#bg"/><rect class="c w4 h2 p1"/><use href="#bx"/><text class="v" x="13.5" y="5.3">1.88 1.47</text><text class="v" x="40.5" y="5.3">1.85 1.48</text><text class="v" x="13.5" y="12.3">1.87 1.06</text><text class="v" x="40.5" y="12.3">1.31 1.27</text><text class="l" x="42" y="-3">Homoserine</text></g>
<g id="lysine" transform="translate(112,332)"><use href="#bg"/><rect class="c w4 h2 p1"/><rect class="c p2" x="13.5"/><rect class="c p2" y="7"/><rect class="c w2 p2" x="27" y="7"/><use href="#bx"/><text class="v" x="13.5" y="5.3">1.93 2.13</text><text class="v" x="40.5" y="5.3">1.93 1.99</text><text class="v" x="13.5" y="12.3">2.87 1.79</text><text class="v" x="40.5" y="12.3">2.58 2.91</text><text class="l" x="27" y="19">Lysine</text></g>
<g id="aminoadipic" transform="translate(112,308)"><use href="#bg"/><rect class="c p3"/><rect class="c w2 p1" x="27"/><rect class="c w4 p3" y="7"/><rect class="c p2" x="13.5" y="7"/><use href="#bx"/><text class="v" x="13.5" y="5.3">3.25 0.75</text><text class="v" x="40.5" y="5.3">1.84 1.43</text><text class="v" x="13.5" y="12.3">3.65 2.49</text><text class="v" x="40.5" y="12.3">3.22 3.08</text><text class="l" x="27" y="-4">α-Aminoadipic   acid</text></g>
<g id="hydroxylysine" transform="translate(27,313)"><use href="#bg"/><rect class="c w4 p1"/><rect class="c p4" y="7"/><rect class="c p2" x="13.5" y="7"/><rect class="c w2 p3" x="27" y="7"/><use href="#bx"/><text class="v" x="13.5" y="5.3">1.21 1.15</text><text class="v" x="40.5" y="5.3">1.87 1.20</text><text class="v" x="13.5" y="12.3">4.17 2.99</text><text class="v" x="40.5" y="12.3">3.31 3.45</text><text class="l" x="20" y="-5">Hydroxylysine</text></g>
<g id="cadaverine" transform="translate(27,341)"><use href="#bg"/><rect class="c b1" x="13.5" y="7"/><use href="#bx"/><text class="v" x="13.5" y="5.3">-0.04 0.21</text><text class="v" x="40.5" y="5.3">0.57 0.58</text><text class="v" x="13.5" y="12.3">-0.66 -1.74</text><text class="v" x="40.5" y="12.3">-0.60 0.73</text><text class="l" x="20" y="20">Cadaverine</text></g>
<g id="methionine" transform="translate(76,268)"><use href="#bg"/><rect class="c w4 h2 p1"/><rect class="c w2 p2"/><rect class="c p2" y="7"/><use href="#bx"/><text class="v" x="13.5" y="5.3">2.71 2.69</text><text class="v" x="40.5" y="5.3">1.19 1.88</text><text class="v" x="13.5" y="12.3">2.89 1.20</text><text class="v" x="40.5" y="12.3">1.85 1.96</text><text class="l" x="29" y="21">Methionine</text></g>
<g id="mta" transform="translate(16,233)"><use href="#bg"/><use href="#bx"/><text class="v" x="13.5" y="5.3">0.55 0.85</text><text class="v" x="40.5" y="5.3">0.26 0.40</text><text class="v" x="13.5" y="12.3">0.28 -0.55</text><text class="v" x="40.5" y="12.3">0.99 0.72</text><text class="l" x="27" y="-10">5-methylthioadenosine</text><text class="l" x="27" y="-3">(MTA)</text></g>
<g id="oas" transform="translate(133,225)"><use href="#bg"/><rect class="c w2 b1" x="27"/><rect class="c p3" y="7"/><rect class="c p1" x="13.5" y="7"/><rect class="c w2 p2" x="27" y="7"/><use href="#bx"/><text class="v" x="13.5" y="5.3">-0.16 -0.24</text><text class="v" x="40.5" y="5.3">-0.69 -0.76</text><text class="v" x="13.5" y="12.3">3.18 1.25</text><text class="v" x="40.5" y="12.3">2.05 2.66</text><text class="l" x="-25" y="3">O-acetylserine</text><text class="l" x="-25" y="10">(OAS)</text></g>
<g id="glycine" transform="translate(16,196)"><use href="#bg"/><rect class="c p2" x="13.5"/><rect class="c w2 p1" x="27"/><use href="#bx"/><text class="v" x="13.5" y="5.3">0.56 2.15</text><text class="v" x="40.5" y="5.3">1.07 1.05</text><text class="v" x="13.5" y="12.3">0.15 -0.03</text><text class="v" x="40.5" y="12.3">0.34 -0.13</text><text class="l" x="19" y="-5">Glycine</text></g>
<g id="ser" transform="translate(133,195)"><use href="#bg"/><rect class="c w2 p2"/><rect class="c w2 p1" x="27"/><rect class="c w4 p2" y="7"/><use href="#bx"/><text class="v" x="13.5" y="5.3">2.43 2.20</text><text class="v" x="40.5" y="5.3">1.85 1.30</text><text class="v" x="13.5" y="12.3">2.75 2.20</text><text class="v" x="40.5" y="12.3">2.12 2.01</text><text class="l" x="25" y="-5">Ser</text></g>
<g id="glycolic" transform="translate(296,195)"><use href="#bg"/><rect class="c b1" x="13.5"/><rect class="c w2 b1" y="7"/><use href="#bx"/><text class="v" x="13.5" y="5.3">-0.14 -1.29</text><text class="v" x="40.5" y="5.3">0.43 0.29</text><text class="v" x="13.5" y="12.3">-1.01 -1.09</text><text class="v" x="40.5" y="12.3">-0.48 -0.54</text><text class="l" x="34" y="-4">Glycolic  acid</text></g>
<g id="guanosine" transform="translate(7,397)"><use href="#bg"/><rect class="c p1" x="40.5" y="7"/><use href="#bx"/><text class="v" x="13.5" y="5.3">0.25 0.20</text><text class="v" x="40.5" y="5.3">-0.87 0.07</text><text class="v" x="13.5" y="12.3">0.91 0.65</text><text class="v" x="40.5" y="12.3">0.84 1.31</text><text class="l" x="25" y="-5">Guanosine</text></g>
<g id="amp" transform="translate(67,397)"><use href="#bg"/><rect class="c p1" x="27"/><use href="#bx"/><text class="v" x="13.5" y="5.3">0.78 0.68</text><text class="v" x="40.5" y="5.3">1.02 0.30</text><text class="v" x="13.5" y="12.3">0.56 0.37</text><text class="v" x="40.5" y="12.3">-0.06 -0.25</text><text class="l" x="22" y="-5">AMP</text></g>
<g id="adenine" transform="translate(67,440)"><use href="#bg"/><rect class="c w2 p1"/><rect class="c p1" y="7"/><rect class="c w2 p1" x="27" y="7"/><use href="#bx"/><text class="v" x="13.5" y="5.3">1.27 1.01</text><text class="v" x="40.5" y="5.3">0.71 0.78</text><text class="v" x="13.5" y="12.3">1.60 0.57</text><text class="v" x="40.5" y="12.3">1.16 1.45</text><text class="l" x="27" y="20">Adenine</text></g>
<g id="allantoin" transform="translate(23,465)"><use href="#bg"/><rect class="c p3"/><rect class="c p4" x="13.5"/><rect class="c p3" x="27"/><rect class="c p2" x="40.5"/><rect class="c w4 p3" y="7"/><rect class="c p2" x="40.5" y="7"/><use href="#bx"/><text class="v" x="13.5" y="5.3">3.88 4.09</text><text class="v" x="40.5" y="5.3">3.02 2.77</text><text class="v" x="13.5" y="12.3">3.94 3.89</text><text class="v" x="40.5" y="12.3">3.47 2.98</text><text class="l" x="27" y="23">Allantoin</text></g>

<g id="legend">
<text x="5" y="520" style="font-size:13px;font-weight:normal">log2</text>
<rect x="33" y="508" width="21" height="14" fill="#5b8bd2"/>
<rect x="55" y="508" width="21" height="14" fill="#b9cfea"/>
<rect x="97" y="508" width="20" height="14" fill="#fbe1e1"/>
<rect x="117" y="508" width="21" height="14" fill="#f5b0b0"/>
<rect x="138" y="508" width="22" height="14" fill="#ee6767"/>
<rect x="160" y="508" width="20" height="14" fill="#e50000"/>
<g style="font-size:7px;text-anchor:middle"><text x="46" y="531">&lt;-2</text><text x="67" y="531">-1</text><text x="87" y="531">0</text><text x="107" y="531">1</text><text x="128" y="531">2</text><text x="149" y="531">3</text><text x="170" y="531">&gt;4</text></g>
<rect x="220" y="504" width="115" height="28" fill="#fff" stroke="#000" stroke-width="1"/>
<path d="M249 504V532M277 504V532M305 504V532M220 518H335" stroke="#000" stroke-width="1"/>
<g style="font-size:9.5px;font-weight:normal;text-anchor:middle"><text x="234.5" y="515">Dular</text><text x="263" y="515">N22</text><text x="291" y="515">IR64</text><text x="320" y="515">IR74</text><text x="234.5" y="529">Dular</text><text x="263" y="529">N22</text><text x="291" y="529">IR64</text><text x="320" y="529">IR74</text></g>
<text x="218" y="515" style="font-size:9.5px;text-anchor:end">shoot</text>
<text x="218" y="529" style="font-size:9.5px;text-anchor:end">root</text>
</g>
</svg>
